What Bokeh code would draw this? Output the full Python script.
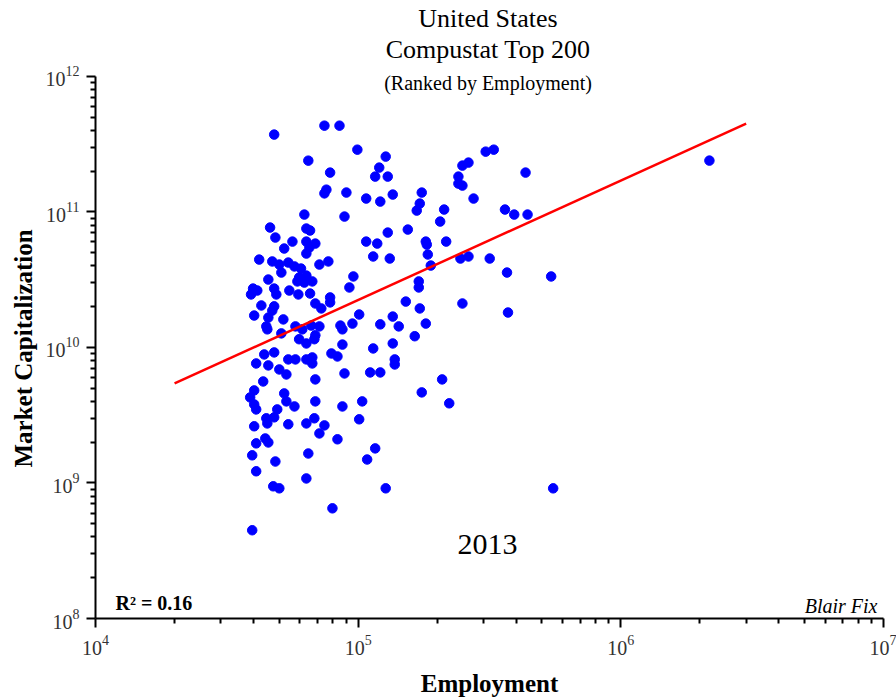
from bokeh.plotting import figure
from bokeh.models import FixedTicker, Label, ColumnDataSource, Title
from bokeh.embed import file_html
from bokeh.resources import INLINE

# Employment (thousands of employees)
employment_k = [
    47.9, 74.4, 84.9, 99.3, 64.6, 78.2, 75.7, 74.4, 90.2, 62.4,
    88.7, 46.2, 63.5, 65.6, 48.4, 56.2, 63.5, 68.7, 65.2, 63.5,
    52.3, 42.0, 47.1, 50.1, 54.2, 57.2, 60.6, 51.0, 71.2, 77.0,
    95.9, 45.5, 59.6, 63.5, 58.7, 62.4, 66.9, 92.6, 39.8, 41.3,
    39.1, 47.9, 48.8, 54.7, 59.2, 65.6, 78.2, 78.2, 42.8, 47.9,
    47.1, 68.7, 72.4, 40.2, 45.5, 51.9, 44.7, 45.1, 57.7, 51.0,
    61.3, 66.3, 71.2, 59.6, 63.5, 68.7, 68.1, 85.6, 87.1, 95.1,
    100.9, 87.1, 43.9, 47.9, 45.5, 40.9, 50.1, 53.3, 54.2, 57.7,
    63.5, 66.9, 66.9, 79.1, 83.4, 88.7, 43.5, 68.7, 40.2, 38.8,
    40.2, 40.9, 52.3, 53.3, 57.2, 68.7, 49.2, 47.9, 44.7, 45.1,
    68.1, 63.5, 74.4, 87.1, 100.9, 103.6, 54.2, 40.2, 71.2, 83.4,
    44.3, 45.5, 40.9, 39.5, 64.6, 48.4, 40.9, 63.5, 108.2, 47.5,
    50.1, 79.8, 39.5, 121.4, 135.4, 142.7, 151.8, 171.6, 180.9, 164.2,
    249.4, 170.1, 170.1, 135.4, 114.1, 137.8, 137.8, 111.1, 121.4, 208.8,
    174.6, 222.2, 116.1, 127.3, 127.3, 120.3, 116.1, 129.6, 107.3, 121.4,
    135.4, 174.6, 171.6, 167.1, 212.5, 205.2, 154.5, 129.6, 107.3, 118.2,
    114.1, 131.9, 180.9, 182.5, 184.1, 189.0, 216.3, 249.4, 263.0, 240.8,
    240.8, 249.4, 275.0, 305.8, 328.2, 433.8, 362.2, 392.8, 441.5, 245.1,
    263.0, 316.8, 368.7, 371.9, 543.0, 552.6, 2174.0,
]

# Market capitalization (billions of dollars)
market_cap_b = [
    372, 433, 433, 288, 239, 195, 146, 137, 139, 95.6,
    92.4, 76.7, 75.4, 72.9, 64.7, 60.4, 60.4, 58.4, 54.6, 49.3,
    53.7, 44.5, 43.1, 40.9, 42.3, 39.6, 38.2, 35.7, 40.9, 43.1,
    33.4, 31.7, 32.8, 33.9, 30.7, 30.1, 30.7, 27.7, 27.2, 26.3,
    24.6, 27.2, 24.6, 26.3, 24.6, 25.0, 23.4, 21.5, 20.4, 20.1,
    18.7, 21.1, 19.4, 17.2, 16.6, 16.1, 14.3, 13.6, 14.3, 12.7,
    13.6, 14.5, 14.3, 11.5, 10.7, 12.3, 11.5, 14.5, 13.6, 15.0,
    17.5, 10.5, 8.88, 9.19, 7.37, 7.62, 6.88, 6.32, 8.16, 8.16,
    8.16, 8.44, 7.62, 9.03, 8.58, 6.43, 5.61, 5.81, 4.82, 4.28,
    3.80, 3.49, 4.58, 4.00, 3.67, 4.00, 3.49, 3.05, 3.00, 2.75,
    3.00, 2.75, 2.66, 3.67, 2.95, 4.00, 2.71, 2.62, 2.32, 2.10,
    2.13, 1.99, 1.96, 1.60, 1.65, 1.44, 1.22, 1.08, 1.49, 0.945,
    0.913, 0.650, 0.448, 14.8, 16.9, 14.3, 21.8, 19.4, 15.0, 12.1,
    21.1, 30.7, 27.7, 10.7, 9.83, 8.16, 7.49, 6.54, 6.54, 5.81,
    4.66, 3.87, 1.80, 0.913, 255.9, 212.3, 182.2, 182.2, 125.5, 119.2,
    134.3, 138.9, 115.3, 102.3, 104.1, 84.9, 74.1, 70.4, 60.4, 58.4,
    46.9, 45.3, 60.4, 57.4, 48.5, 40.2, 60.4, 219.6, 231.1, 182.2,
    161.8, 156.4, 125.5, 278.5, 288, 195.1, 104.1, 95.6, 95.6, 45.3,
    46.9, 45.3, 35.7, 18.1, 33.4, 0.913, 239.1,
]

# Regression line end points (employment, market cap)
fit_employment = [2.0e4, 3.0e6]
fit_market_cap = [5.43e9, 4.48e11]

x_major = [1e4, 1e5, 1e6, 1e7]
y_major = [1e8, 1e9, 1e10, 1e11, 1e12]

title_lines = ["United States", "Compustat Top 200"]
subtitle = "(Ranked by Employment)"
year_label = "2013"
r2_label = "R\u00b2 = 0.16"
credit = "Blair Fix"
x_label = "Employment"
y_label = "Market Capitalization"

source = ColumnDataSource(data=dict(
    emp=[v * 1e3 for v in employment_k],
    cap=[v * 1e9 for v in market_cap_b],
))

# frame spans the canvas top so that the titles can sit inside it;
# the y axis itself is bounded to 1e8 .. 1e12
p = figure(width=896, height=700,
           x_axis_type="log", y_axis_type="log",
           x_range=(1e4, 1e7), y_range=(1e8, 10 ** 12.56),
           output_backend="svg", toolbar_location=None,
           min_border_left=95, min_border_right=13,
           min_border_top=0, min_border_bottom=82)
p.outline_line_color = None
p.grid.visible = False
p.background_fill_color = "white"
p.border_fill_color = "white"


def minors(majors):
    out = []
    for m in majors[:-1]:
        for k in range(2, 10):
            out.append(m * k)
    return out


p.xaxis.ticker = FixedTicker(ticks=x_major, minor_ticks=minors(x_major))
p.yaxis.ticker = FixedTicker(ticks=y_major, minor_ticks=minors(y_major))
p.yaxis.bounds = (1e8, 1e12)
p.xaxis.bounds = (1e4, 1e7)

p.xaxis.axis_label = x_label

for ax in (p.xaxis[0], p.yaxis[0]):
    ax.major_label_text_font = "Liberation Serif"
    ax.major_label_text_font_size = "20px"
    ax.major_label_text_color = "#333333"
    ax.axis_label_text_font = "Liberation Serif"
    ax.axis_label_text_font_style = "bold"
    ax.axis_label_text_font_size = "25px"
    ax.axis_label_text_color = "black"
    ax.axis_line_color = "black"
    ax.axis_line_width = 2
    ax.major_tick_line_color = "black"
    ax.major_tick_line_width = 2
    ax.minor_tick_line_color = "black"
    ax.minor_tick_line_width = 2
    ax.major_tick_out = 9
    ax.major_tick_in = 0
    ax.minor_tick_out = 5
    ax.minor_tick_in = 0
    ax.major_label_standoff = 7

p.xaxis.axis_label_standoff = 12

# y axis title, placed along the bounded axis rather than the whole frame
p.add_layout(Title(text=y_label, align="left", offset=151,
                   text_font="Liberation Serif", text_font_size="25px",
                   text_font_style="bold", text_color="black",
                   standoff=11), "left")

p.scatter("emp", "cap", source=source, size=9.5, color="#0000ff")
p.line(fit_employment, fit_market_cap, line_color="#ff0000", line_width=2.5)

serif = "Liberation Serif"


def add_text(x, y, text, size, style="normal", align="center"):
    p.add_layout(Label(x=x, y=y, x_units="screen", y_units="screen",
                       text=text, text_font=serif, text_font_size=size,
                       text_font_style=style, text_align=align,
                       text_baseline="alphabetic", text_color="black"))


add_text(392.5, 600, title_lines[0], "26px")
add_text(392.5, 569.5, title_lines[1], "26px")
add_text(392.5, 536, subtitle, "20px")
add_text(392, 74, year_label, "30px")
add_text(20, 16, r2_label, "20px", style="bold", align="left")
add_text(782, 13, credit, "20px", style="italic", align="right")

open("out.html", "w").write(file_html(p, INLINE))
